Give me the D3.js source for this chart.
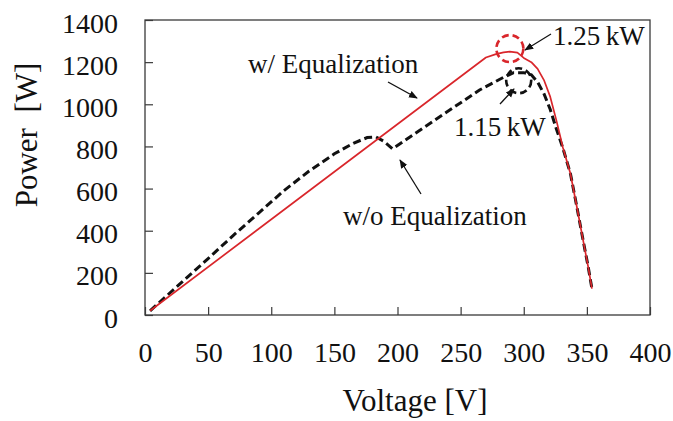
<!DOCTYPE html>
<html>
<head>
<meta charset="utf-8">
<script src="https://cdn.jsdelivr.net/npm/d3@7/dist/d3.min.js"></script>
<style>
  html, body { margin: 0; padding: 0; background: #fff; }
  svg { display: block; }
  text { font-family: "Liberation Serif", "Times New Roman", serif; fill: #111; }
</style>
</head>
<body>
<svg id="chart" width="673" height="421"></svg>
<script>
// P-V curves of the string, with and without cell equalization
const xTicks = [0, 50, 100, 150, 200, 250, 300, 350, 400];
const yTicks = [0, 200, 400, 600, 800, 1000, 1200, 1400];

// [voltage V, power W]
const withEqualization = [
  [4, 20], [270, 1222], [278, 1238], [284, 1246], [289, 1250], [295, 1245],
  [300, 1220], [306, 1200], [311, 1168], [316, 1115], [321, 1035], [326, 920],
  [331, 795], [337, 670], [342, 515], [347, 355], [351, 230], [354, 125]
];
const withoutEqualization = [
  [4, 20], [30, 160], [50, 268], [70, 378], [90, 484], [110, 590], [130, 683],
  [150, 765], [165, 815], [176, 842], [183, 845], [189, 825], [196, 789],
  [265, 1068], [284, 1128], [292, 1150], [300, 1150], [306, 1140], [311, 1105],
  [316, 1050], [321, 975], [326, 880], [331, 792], [337, 670], [342, 515],
  [347, 355], [351, 230], [354, 125]
];

// maximum power points and their labels
const mppWith = { v: 289, p: 1250, label: "1.25\u2009kW" };
const mppWithout = { v: 296, p: 1150, label: "1.15\u2009kW" };

const svg = d3.select("#chart");
const margin = { left: 145, right: 23, top: 20, bottom: 106 };
const W = 673, H = 421;

const x = d3.scaleLinear().domain([0, 400]).range([margin.left, W - margin.right]);
const y = d3.scaleLinear().domain([0, 1400]).range([H - margin.bottom, margin.top]);

// plot frame
svg.append("rect")
  .attr("x", x(0)).attr("y", y(1400))
  .attr("width", x(400) - x(0)).attr("height", y(0) - y(1400))
  .attr("fill", "none").attr("stroke", "#3a3a3a").attr("stroke-width", 1.3);

// axes: inward ticks, labels outside
const fmt = d3.format("d");
const xAxis = svg.append("g")
  .attr("transform", `translate(0,${y(0)})`)
  .call(d3.axisBottom(x).tickValues(xTicks).tickFormat(fmt)
    .tickSizeInner(-8).tickSizeOuter(0).tickPadding(27));
const yAxis = svg.append("g")
  .attr("transform", `translate(${x(0)},0)`)
  .call(d3.axisLeft(y).tickValues(yTicks).tickFormat(fmt)
    .tickSizeInner(-8).tickSizeOuter(0).tickPadding(27));

[xAxis, yAxis].forEach(g => {
  g.attr("font-family", null).attr("font-size", null);
  g.select(".domain").remove();
  g.selectAll(".tick line").attr("stroke", "#3a3a3a").attr("stroke-width", 1.2);
  g.selectAll(".tick text").attr("font-size", 28).attr("fill", "#111");
});
yAxis.selectAll(".tick text").attr("dy", "0.43em");

// axis titles
svg.append("text")
  .attr("x", 415).attr("y", 411)
  .attr("text-anchor", "middle").attr("font-size", 31)
  .text("Voltage [V]");
svg.append("text")
  .attr("transform", "translate(37,135) rotate(-90)")
  .attr("text-anchor", "middle").attr("font-size", 31)
  .style("white-space", "pre")
  .text("Power  [W]");

const line = d3.line().x(d => x(d[0])).y(d => y(d[1])).curve(d3.curveLinear);

svg.append("path")
  .datum(withoutEqualization)
  .attr("d", line)
  .attr("fill", "none").attr("stroke", "#111").attr("stroke-width", 3)
  .attr("stroke-dasharray", "8,4");

svg.append("path")
  .datum(withEqualization)
  .attr("d", line)
  .attr("fill", "none").attr("stroke", "#d9262b").attr("stroke-width", 1.7)
  .attr("stroke-linejoin", "round");

// dashed rings around the maximum power points
svg.append("circle")
  .attr("cx", x(mppWith.v)).attr("cy", y(mppWith.p) - 3).attr("r", 13.5)
  .attr("fill", "none").attr("stroke", "#d9262b").attr("stroke-width", 2.6)
  .attr("stroke-dasharray", "7,4");
svg.append("circle")
  .attr("cx", x(mppWithout.v)).attr("cy", y(mppWithout.p) + 8).attr("r", 12.5)
  .attr("fill", "none").attr("stroke", "#111").attr("stroke-width", 2.6)
  .attr("stroke-dasharray", "7,4");

// arrow marker
svg.append("defs").append("marker")
  .attr("id", "arrowhead")
  .attr("viewBox", "0 0 10 10").attr("refX", 9).attr("refY", 5)
  .attr("markerWidth", 9).attr("markerHeight", 9)
  .attr("markerUnits", "userSpaceOnUse")
  .attr("orient", "auto")
  .append("path").attr("d", "M0,1 L10,5 L0,9 Z").attr("fill", "#111");

function arrow(x1, y1, x2, y2) {
  svg.append("line")
    .attr("x1", x1).attr("y1", y1).attr("x2", x2).attr("y2", y2)
    .attr("stroke", "#111").attr("stroke-width", 1.3)
    .attr("marker-end", "url(#arrowhead)");
}

// annotations
svg.append("text").attr("x", 248).attr("y", 73).attr("font-size", 27).text("w/ Equalization");
arrow(388, 82, 417, 98);

svg.append("text").attr("x", 343).attr("y", 225).attr("font-size", 27).text("w/o Equalization");
arrow(421, 194, 400, 160);

svg.append("text").attr("x", 553).attr("y", 45).attr("font-size", 27).text(mppWith.label);
arrow(551, 34, 525, 50);

svg.append("text").attr("x", 454).attr("y", 136).attr("font-size", 27).text(mppWithout.label);
arrow(500, 104, 514, 89);
</script>
</body>
</html>
